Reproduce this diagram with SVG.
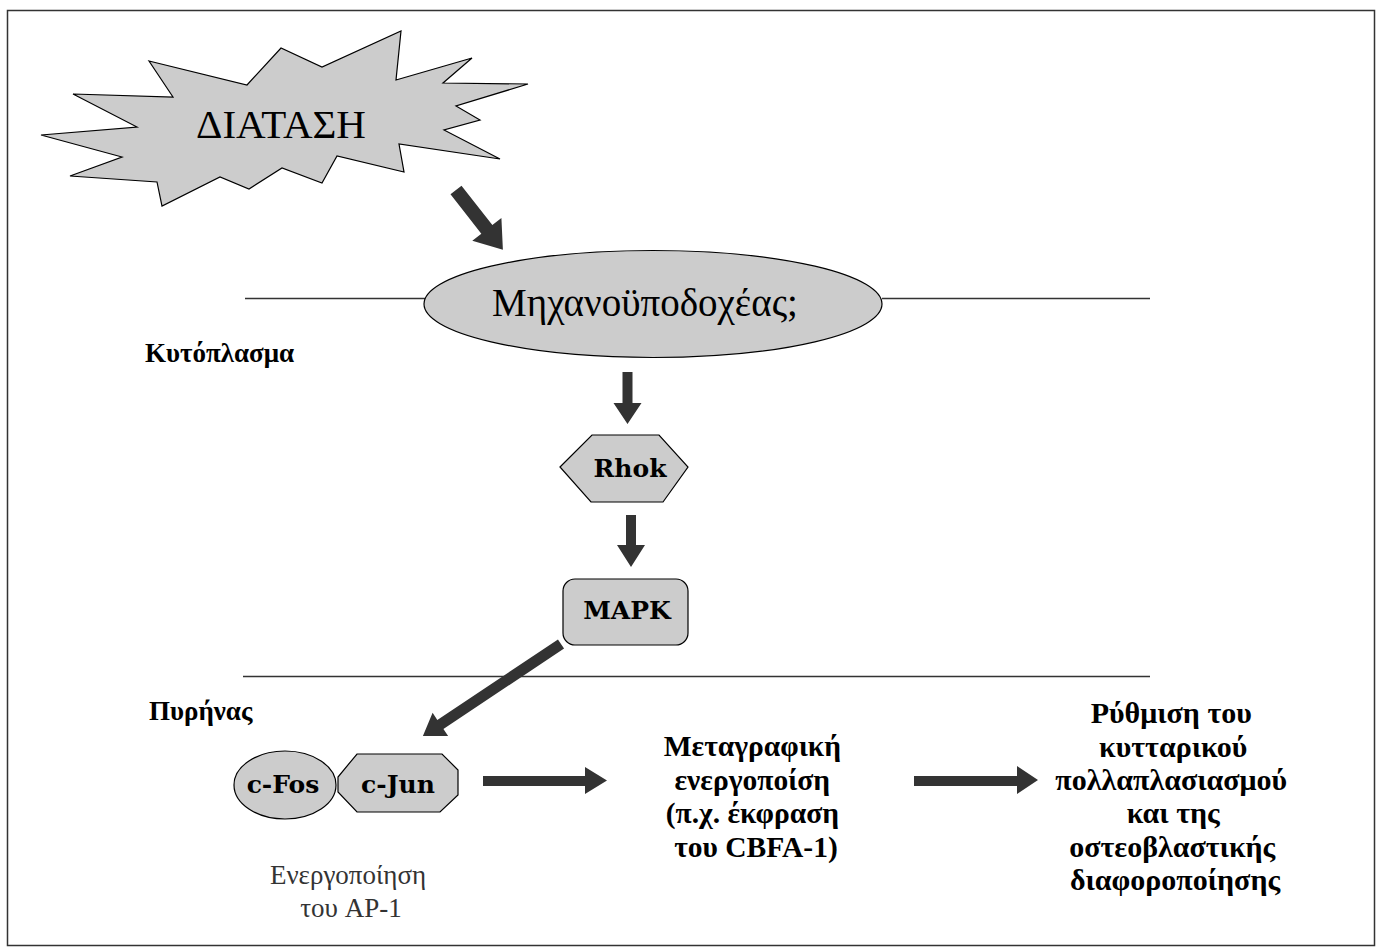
<svg xmlns="http://www.w3.org/2000/svg" width="1378" height="951" viewBox="0 0 1378 951">
<style>
.shape{fill:#cccccc;stroke:#000;stroke-width:1.2}
.arrow{fill:#333333;stroke:none}
.mem{stroke:#333;stroke-width:1.5;fill:none}
.b{font-family:"DejaVu Serif","Liberation Serif",serif;font-weight:bold;fill:#000}
.g{font-family:"Liberation Serif","DejaVu Serif",serif;font-weight:bold;fill:#000}
.t{font-family:"Liberation Serif","DejaVu Serif",serif;fill:#000}
.r{font-family:"Liberation Serif","DejaVu Serif",serif;fill:#333}
</style>
<rect x="7.5" y="10.5" width="1367" height="935" fill="#fff" stroke="#333" stroke-width="1.5"/>
<g id="membranes">
<line class="mem" x1="245" y1="298.5" x2="425" y2="298.5"/>
<line class="mem" x1="882" y1="298.5" x2="1150" y2="298.5"/>
<line class="mem" x1="243" y1="676.5" x2="1150" y2="676.5"/>
</g>
<g id="stretch">
<polygon class="shape" points="149,61 247,85 281,48 322,67 401,31 396,80 472,58 443,83 528,84 456,106 480,120 444,130 500,159 399,144 404,172 337,156 322,183 282,168 249,189 220,177 162,206 157,182 70,176 122,157 41,135 137,127 73,94 173,97"/>
<text class="t" x="281" y="138" font-size="41" text-anchor="middle">ΔΙΑΤΑΣΗ</text>
</g>
<g id="mechanoreceptor">
<ellipse class="shape" cx="653" cy="304" rx="229" ry="53.5"/>
<text class="t" x="645" y="316" font-size="39" text-anchor="middle">Μηχανοϋποδοχέας;</text>
</g>
<g id="rhok">
<polygon class="shape" points="560,467 592,435 659,435 688,467 663,502 591,502"/>
<text class="b" x="630" y="477" font-size="25" text-anchor="middle">Rhok</text>
</g>
<g id="mapk">
<rect class="shape" x="563" y="579" width="125" height="66" rx="12"/>
<text class="b" x="627" y="619" font-size="25" text-anchor="middle">MAPK</text>
</g>
<g id="cfos">
<ellipse class="shape" cx="285" cy="785" rx="51" ry="34"/>
<text class="b" x="283" y="793" font-size="25" text-anchor="middle">c-Fos</text>
</g>
<g id="cjun">
<polygon class="shape" points="357,754 442,754 458,770 458,795 440,812 357,812 338,792 338,777"/>
<text class="b" x="398" y="793" font-size="25" text-anchor="middle">c-Jun</text>
</g>
<g id="ap1-label">
<text class="r" x="348" y="884" font-size="27" text-anchor="middle">Ενεργοποίηση</text>
<text class="r" x="351" y="917" font-size="27" text-anchor="middle">του AP-1</text>
</g>
<g id="transcription">
<text class="g" font-size="29.5" text-anchor="middle">
<tspan x="756" y="756">Μεταγραφική</tspan>
<tspan x="756" y="790">ενεργοποίση</tspan>
<tspan x="756" y="823">(π.χ. έκφραση</tspan>
<tspan x="756" y="857">του CBFA-1)</tspan>
</text>
</g>
<g id="outcome">
<text class="g" font-size="30" text-anchor="middle">
<tspan x="1175" y="723">Ρύθμιση του</tspan>
<tspan x="1177" y="757">κυτταρικού</tspan>
<tspan x="1175" y="790">πολλαπλασιασμού</tspan>
<tspan x="1177" y="823">και της</tspan>
<tspan x="1176" y="857">οστεοβλαστικής</tspan>
<tspan x="1175" y="890">διαφοροποίησης</tspan>
</text>
</g>
<g id="region-labels">
<text class="g" x="145" y="362" font-size="27">Κυτόπλασμα</text>
<text class="g" x="149" y="720" font-size="27">Πυρήνας</text>
</g>
<g id="connectors">
<polygon class="arrow" transform="translate(456,190) rotate(51.9)" points="0,-7 50,-7 50,-18.5 76,0 50,18.5 50,7 0,7"/>
<polygon class="arrow" points="622.5,372 632.5,372 632.5,403 641.5,403 627.5,424 613.5,403 622.5,403"/>
<polygon class="arrow" points="626,515 636,515 636,545 645,545 631,567 617,545 626,545"/>
<polygon class="arrow" transform="translate(561,644) rotate(146.3)" points="0,-5.5 145,-5.5 145,-14 166,0 145,14 145,5.5 0,5.5"/>
<polygon class="arrow" points="483,776 585,776 585,767 607,780.5 585,794 585,786 483,786"/>
<polygon class="arrow" points="914,776 1017,776 1017,766 1038,780 1017,794 1017,786 914,786"/>
</g>
</svg>
